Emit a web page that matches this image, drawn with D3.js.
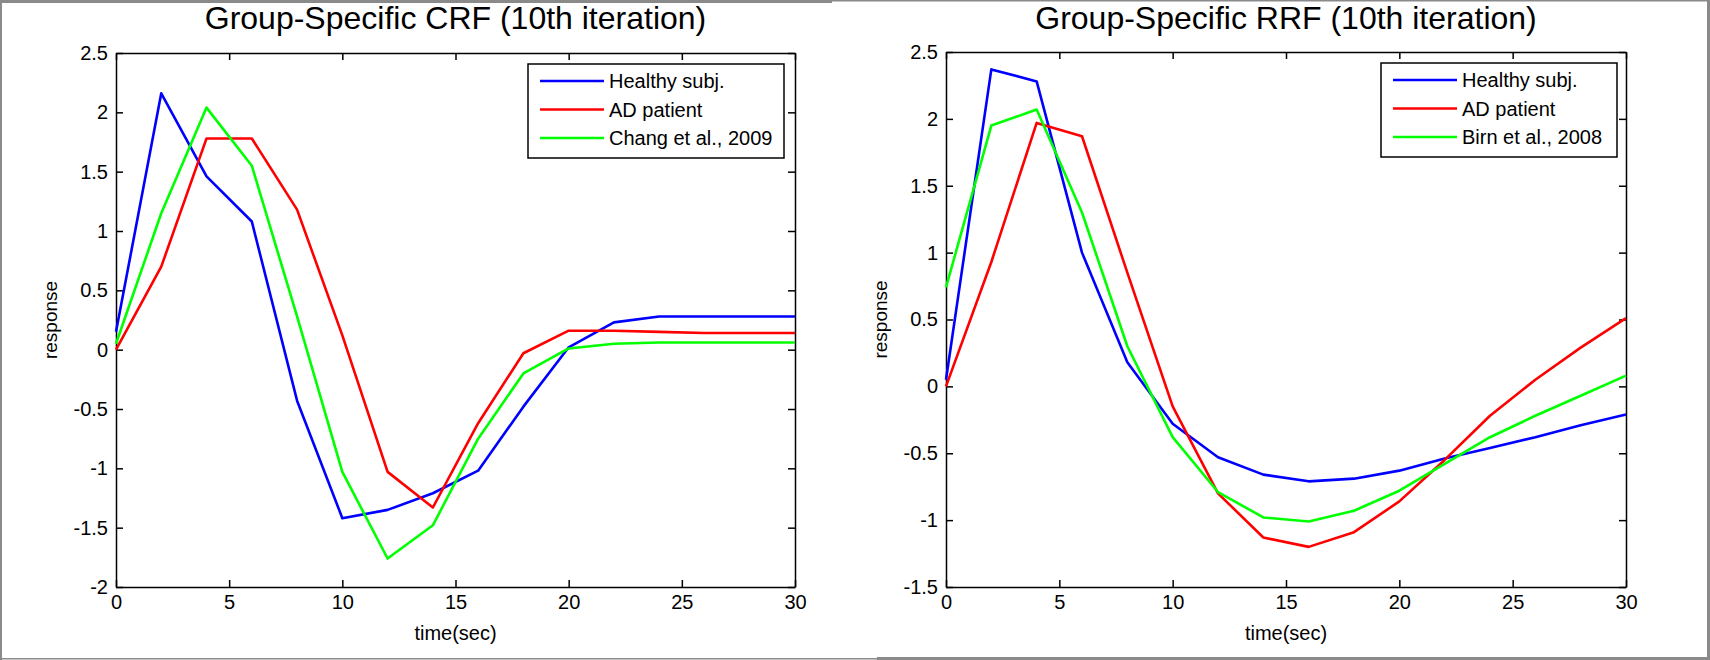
<!DOCTYPE html>
<html>
<head>
<meta charset="utf-8">
<script src="https://cdn.jsdelivr.net/npm/d3@7"></script>
<style>
    body { margin: 0; background: #fff; }
    text { font-family: "Liberation Sans", Arial, sans-serif; fill: #000; }
    .axis path, .axis line { stroke: #000; stroke-width: 1.5; }
    .axis text { font-size: 20px; }
</style>
</head>
<body>
<div id="figure"></div>
<script>
// sample times (sec)
let timeSec = [0, 2, 4, 6, 8, 10, 12, 14, 16, 18, 20, 22, 24, 26, 28, 30];

// Group-specific CRF
let crfHealthy = [0.15, 2.16, 1.46, 1.08, -0.43, -1.42, -1.35, -1.21, -1.02, -0.48, 0.02, 0.23, 0.28, 0.28, 0.28, 0.28];
let crfAD = [0.0, 0.70, 1.78, 1.78, 1.18, 0.12, -1.03, -1.33, -0.62, -0.03, 0.16, 0.16, 0.15, 0.14, 0.14, 0.14];
let crfChang = [0.05, 1.15, 2.04, 1.55, 0.28, -1.03, -1.76, -1.48, -0.75, -0.20, 0.01, 0.05, 0.06, 0.06, 0.06, 0.06];

// Group-specific RRF
let rrfHealthy = [0.05, 2.37, 2.28, 1.00, 0.18, -0.28, -0.53, -0.66, -0.71, -0.69, -0.63, -0.54, -0.46, -0.38, -0.29, -0.21];
let rrfAD = [0.0, 0.93, 1.97, 1.87, 0.85, -0.15, -0.80, -1.13, -1.20, -1.09, -0.86, -0.55, -0.22, 0.05, 0.29, 0.51];
let rrfBirn = [0.74, 1.95, 2.07, 1.30, 0.30, -0.38, -0.79, -0.98, -1.01, -0.93, -0.78, -0.58, -0.38, -0.22, -0.07, 0.08];

// ticks
let xTicks = [0, 5, 10, 15, 20, 25, 30];
let crfYTicks = [-2, -1.5, -1, -0.5, 0, 0.5, 1, 1.5, 2, 2.5];
let rrfYTicks = [-1.5, -1, -0.5, 0, 0.5, 1, 1.5, 2, 2.5];

let svgWidth = 1710;
let svgHeight = 660;

let svg = d3
    .select("#figure")
    .append("svg")
    .attr("width", svgWidth)
    .attr("height", svgHeight);

// grey frame of the two screenshots
let frame = svg.append("g").attr("fill", "#8a8a8a");
frame.append("rect").attr("x", 0).attr("y", 0).attr("width", 832).attr("height", 3);
frame.append("rect").attr("x", 832).attr("y", 0).attr("width", 878).attr("height", 1.5);
frame.append("rect").attr("x", 0).attr("y", 658).attr("width", 877).attr("height", 1.5);
frame.append("rect").attr("x", 877).attr("y", 657).attr("width", 833).attr("height", 3);
frame.append("rect").attr("x", 0).attr("y", 0).attr("width", 2).attr("height", 660);
frame.append("rect").attr("x", 1707).attr("y", 0).attr("width", 3).attr("height", 660);

let panels = [
    {
        title: "Group-Specific CRF (10th iteration)",
        left: 116, right: 795, top: 53, bottom: 587,
        yDomain: [-2, 2.5], yTicks: crfYTicks,
        series: [
            { name: "Healthy subj.", values: crfHealthy, color: "#0000ff" },
            { name: "AD patient", values: crfAD, color: "#ff0000" },
            { name: "Chang et al., 2009", values: crfChang, color: "#00ff00" }
        ],
        legend: { x: 528, y: 64, w: 256, h: 94 }
    },
    {
        title: "Group-Specific RRF (10th iteration)",
        left: 946, right: 1626, top: 52, bottom: 587,
        yDomain: [-1.5, 2.5], yTicks: rrfYTicks,
        series: [
            { name: "Healthy subj.", values: rrfHealthy, color: "#0000ff" },
            { name: "AD patient", values: rrfAD, color: "#ff0000" },
            { name: "Birn et al., 2008", values: rrfBirn, color: "#00ff00" }
        ],
        legend: { x: 1381, y: 63, w: 236, h: 94 }
    }
];

panels.forEach(function(p) {
    let chartWidth = p.right - p.left;
    let chartHeight = p.bottom - p.top;

    let chartGroup = svg
        .append("g")
        .attr("transform", `translate(${p.left}, ${p.top})`);

    let xLinearScale = d3.scaleLinear().domain([0, 30]).range([0, chartWidth]);
    let yLinearScale = d3.scaleLinear().domain(p.yDomain).range([chartHeight, 0]);

    // axes with inward ticks, box on all four sides
    chartGroup.append("g")
        .attr("class", "axis")
        .attr("transform", `translate(0, ${chartHeight})`)
        .call(d3.axisBottom(xLinearScale).tickValues(xTicks).tickSizeInner(-7).tickSizeOuter(0).tickPadding(8).tickFormat(d => String(d)));

    chartGroup.append("g")
        .attr("class", "axis")
        .call(d3.axisTop(xLinearScale).tickValues(xTicks).tickSizeInner(-7).tickSizeOuter(0).tickFormat(""));

    chartGroup.append("g")
        .attr("class", "axis")
        .call(d3.axisLeft(yLinearScale).tickValues(p.yTicks).tickSizeInner(-7).tickSizeOuter(0).tickPadding(8).tickFormat(d => String(d)));

    chartGroup.append("g")
        .attr("class", "axis")
        .attr("transform", `translate(${chartWidth}, 0)`)
        .call(d3.axisRight(yLinearScale).tickValues(p.yTicks).tickSizeInner(-7).tickSizeOuter(0).tickFormat(""));

    chartGroup.selectAll(".axis .domain").attr("stroke-width", 1.8);
    chartGroup.selectAll(".axis text").attr("fill", "#000").style("font-family", "'Liberation Sans', Arial, sans-serif");

    // lines
    let line = d3.line()
        .x((d, i) => xLinearScale(timeSec[i]))
        .y(d => yLinearScale(d));

    chartGroup.append("g")
        .selectAll("path")
        .data(p.series)
        .enter()
        .append("path")
        .attr("d", d => line(d.values))
        .attr("fill", "none")
        .attr("stroke", d => d.color)
        .attr("stroke-width", 2.6)
        .attr("stroke-linejoin", "round");

    // title
    chartGroup.append("text")
        .attr("x", chartWidth / 2)
        .attr("y", 29 - p.top)
        .attr("text-anchor", "middle")
        .style("font-size", "32px")
        .text(p.title);

    // axis labels
    chartGroup.append("text")
        .attr("x", chartWidth / 2)
        .attr("y", 640 - p.top)
        .attr("text-anchor", "middle")
        .style("font-size", "20px")
        .text("time(sec)");

    chartGroup.append("text")
        .attr("transform", `translate(${-59}, ${chartHeight / 2}) rotate(-90)`)
        .attr("text-anchor", "middle")
        .style("font-size", "19px")
        .text("response");

    // legend
    let lg = svg.append("g").attr("transform", `translate(${p.legend.x}, ${p.legend.y})`);
    lg.append("rect")
        .attr("width", p.legend.w)
        .attr("height", p.legend.h)
        .attr("fill", "#fff")
        .attr("stroke", "#000")
        .attr("stroke-width", 1.5);

    let items = lg.selectAll(".item")
        .data(p.series)
        .enter()
        .append("g")
        .attr("transform", (d, i) => `translate(0, ${17 + i * 28.5})`);

    items.append("line")
        .attr("x1", 12).attr("x2", 76)
        .attr("stroke", d => d.color)
        .attr("stroke-width", 2.6);

    items.append("text")
        .attr("x", 81)
        .attr("y", 7)
        .style("font-size", "20px")
        .text(d => d.name);
});
</script>
</body>
</html>
